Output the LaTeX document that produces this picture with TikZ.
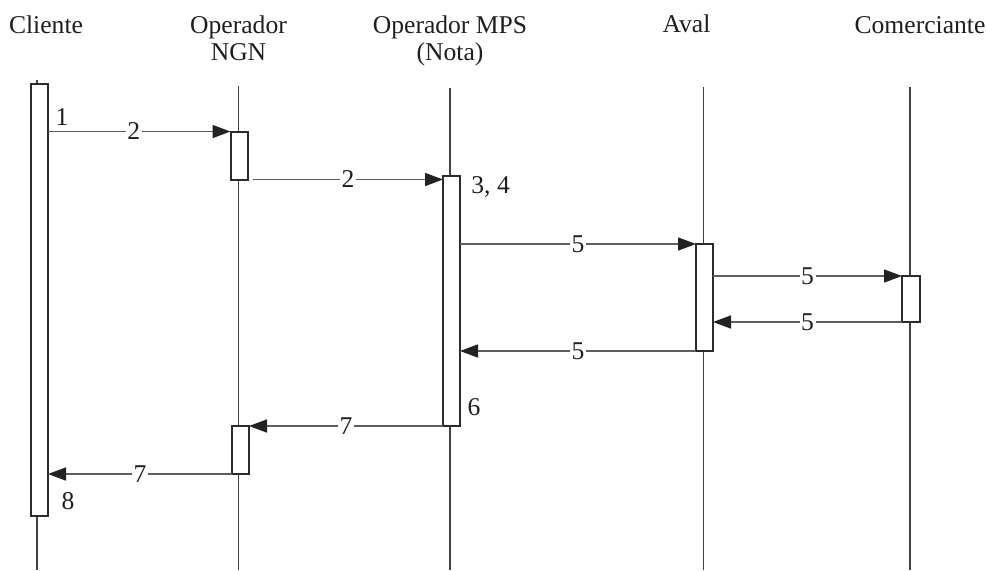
\documentclass[tikz,border=0pt]{standalone}
\usepackage{fontspec}
\setmainfont{Liberation Serif}
\usetikzlibrary{arrows.meta,fit}
\definecolor{boxline}{HTML}{2B2B2B}
\definecolor{msgline}{HTML}{5E5E5E}
\definecolor{lifecol}{HTML}{404040}
\definecolor{headcol}{HTML}{1E1E1E}
\definecolor{tipcol}{HTML}{222222}
\begin{document}
\begin{tikzpicture}[x=0.5pt,y=-0.5pt,
  every node/.style={font=\fontsize{12.8}{13.5}\selectfont, text=headcol},
  head/.style={anchor=base, align=center},
  act/.style={draw=boxline, line width=1pt, fill=white, inner sep=0pt, outer sep=0pt},
  life/.style={draw=lifecol, line width=0.6pt},
  msg/.style={draw=msgline, line width=0.8pt, -{Triangle[length=9pt,width=6.5pt,color=tipcol]}},
  num/.style={fill=white, inner sep=0.8pt},
  note/.style={inner sep=0pt}]
\useasboundingbox (0,0) rectangle (987,570);

% headers (base = baseline of the last line)
\node[head] (hC)  at (46,33)    {Cliente};
\node[head] (hN)  at (238.5,60) {Operador\\NGN};
\node[head] (hM)  at (450,60)   {Operador MPS\\(Nota)};
\node[head] (hA)  at (686.5,32) {Aval};
\node[head] (hCo) at (920,33)   {Comerciante};

% lifelines
\coordinate (lCt)  at (37,80);   \coordinate (lCb)  at (37,570);
\coordinate (lNt)  at (238.5,86);\coordinate (lNb)  at (238.5,570);
\coordinate (lMt)  at (450,88);  \coordinate (lMb)  at (450,570);
\coordinate (lAt)  at (703.5,87);\coordinate (lAb)  at (703.5,570);
\coordinate (lCot) at (910,87);  \coordinate (lCob) at (910,570);
\draw[life] (lCt) -- (lCb);
\draw[life] (lNt) -- (lNb);
\draw[life] (lMt) -- (lMb);
\draw[life] (lAt) -- (lAb);
\draw[life] (lCot) -- (lCob);

% activation boxes
\node[act, fit={(30.5,83.5)(48,516)}]    (aC)  {};
\node[act, fit={(230.5,131.5)(248,179.5)}] (aN1) {};
\node[act, fit={(232,426)(249,474)}]     (aN2) {};
\node[act, fit={(443,176)(460,426)}]     (aM)  {};
\node[act, fit={(696,244)(713,351)}]     (aA)  {};
\node[act, fit={(902,276)(919.5,322)}]   (aCo) {};

% messages
\draw[msg] (aC.east |- aN1.north) -- node[num, pos=0.47]{2} (aN1.north west);
\draw[msg] ([xshift=2.5pt]aN1.south east) -- node[num]{2} (aM.west |- aN1.south);
\draw[msg] (aM.east |- aA.north) -- node[num]{5} (aA.north west);
\draw[msg] (aA.east |- aCo.north) -- node[num]{5} (aCo.north west);
\draw[msg] (aCo.south west) -- node[num]{5} (aA.east |- aCo.south);
\draw[msg] (aA.south west) -- node[num]{5} (aM.east |- aA.south);
\draw[msg] (aM.south west) -- node[num]{7} (aN2.north east);
\draw[msg] (aN2.south west) -- node[num]{7} (aC.east |- aN2.south);

% step notes
\node[note, anchor=base] (n1) at (62,125) {1};
\node[note, anchor=base west] (n34) at (471,193) {3, 4};
\node[note, anchor=base] (n6) at (474,415) {6};
\node[note, anchor=base] (n8) at (68,509) {8};
\end{tikzpicture}
\end{document}
